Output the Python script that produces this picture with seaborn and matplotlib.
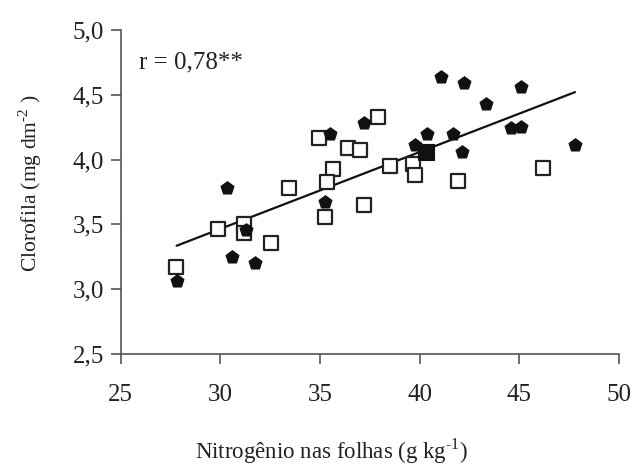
import numpy as np
import pandas as pd
import matplotlib
matplotlib.use("Agg")
import matplotlib.pyplot as plt
import seaborn as sns

# ── Data ─────────────────────────────────────────────────────
# open squares
n_open = [34.93, 37.89, 36.41, 37.03, 35.63, 35.33, 38.49, 33.45, 37.20, 35.23,
          29.88, 31.17, 31.17, 32.55, 27.75, 39.67, 39.76, 41.95, 46.20]
c_open = [4.169, 4.331, 4.092, 4.072, 3.925, 3.829, 3.953, 3.783, 3.650, 3.557,
          3.465, 3.501, 3.431, 3.359, 3.174, 3.966, 3.879, 3.832, 3.938]

# filled markers
n_fill = [35.49, 37.21, 30.31, 35.26, 31.26, 30.59, 31.73, 27.80, 41.06, 42.23,
          45.08, 43.31, 40.38, 41.67, 39.79, 44.61, 45.10, 47.79, 42.15]
c_fill = [4.195, 4.285, 3.783, 3.673, 3.457, 3.251, 3.205, 3.066, 4.640, 4.593,
          4.563, 4.427, 4.198, 4.198, 4.113, 4.242, 4.254, 4.113, 4.061]

# overlapping point (drawn as solid square)
n_both = [40.33]
c_both = [4.059]

# fitted line  y = a + b*x
fit_a, fit_b = 1.690, 0.0592
fit_x = [27.8, 47.8]

x_ticks = [25, 30, 35, 40, 45, 50]
y_ticks = [2.5, 3.0, 3.5, 4.0, 4.5, 5.0]

sns.set_style("ticks")
plt.rcParams["font.family"] = ["Liberation Serif", "DejaVu Serif"]
plt.rcParams["mathtext.fontset"] = "custom"
plt.rcParams["mathtext.rm"] = "Liberation Serif"

TXT = "#222222"
AXC = "#555555"

fig = plt.figure(figsize=(6.36, 4.66), dpi=100)
ax = fig.add_axes([0.190, 0.240, 0.783, 0.696])

df_open = pd.DataFrame({"n": n_open, "c": c_open})
df_fill = pd.DataFrame({"n": n_fill, "c": c_fill})
df_both = pd.DataFrame({"n": n_both, "c": c_both})
df_fit = pd.DataFrame({"n": fit_x, "c": [fit_a + fit_b * v for v in fit_x]})

sns.lineplot(data=df_fit, x="n", y="c", color="#111111", linewidth=1.6, ax=ax, zorder=2)
sns.scatterplot(data=df_open, x="n", y="c", marker="s", s=95, facecolor="white",
                edgecolor="#222222", linewidth=1.6, ax=ax, zorder=3)
sns.scatterplot(data=df_fill, x="n", y="c", marker="p", s=95, color="#111111",
                edgecolor="#111111", linewidth=0.8, ax=ax, zorder=4)
sns.scatterplot(data=df_both, x="n", y="c", marker="s", s=120, color="#111111",
                edgecolor="#111111", linewidth=0.8, ax=ax, zorder=4)

ax.set_xlim(25, 50)
ax.set_ylim(2.5, 5.0)
ax.set_xticks(x_ticks)
ax.set_yticks(y_ticks)
ax.set_xticklabels([str(v) for v in x_ticks])
ax.set_yticklabels([f"{v:.1f}".replace(".", ",") for v in y_ticks])

for side in ["top", "right"]:
    ax.spines[side].set_visible(False)
for side in ["left", "bottom"]:
    ax.spines[side].set_color(AXC)
    ax.spines[side].set_linewidth(1.2)
ax.tick_params(axis="both", direction="out", length=7.2, width=1.2, color=AXC,
               labelsize=18, labelcolor=TXT)
ax.tick_params(axis="y", pad=5)
ax.tick_params(axis="x", pad=14)

ax.set_xlabel("")
ax.set_ylabel("")
fig.text(0.522, 0.017, "Nitrogênio nas folhas (g kg$^{\\text{-1}}$)", fontsize=16.5,
         color=TXT, ha="center", va="baseline")
fig.text(0.047, 0.607, "Clorofila (mg dm$^{\\text{-2}}$ )", fontsize=15.5,
         color=TXT, ha="center", va="center", rotation=90)

ax.text(25.9, 4.745, "r = 0,78**", fontsize=18, color=TXT, ha="left", va="center")

fig.savefig("out.png", dpi=100)
plt.close(fig)
